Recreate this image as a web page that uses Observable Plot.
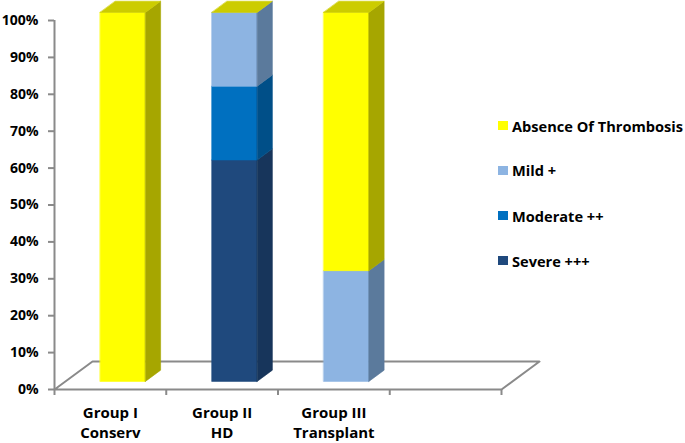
<!DOCTYPE html>
<html><head><meta charset="utf-8">
<script src="https://cdn.jsdelivr.net/npm/d3@7"></script>
<script src="https://cdn.jsdelivr.net/npm/@observablehq/plot@0.6"></script>
<style>
body{margin:0;background:#fff;font-family:"Open Sans",Lato,sans-serif;}
#wrap{position:relative;width:685px;height:443px;overflow:hidden;}
#legend{position:absolute;left:498px;top:0;font-weight:bold;font-size:14.6px;color:#000;}
.item{position:absolute;left:0;white-space:nowrap;display:flex;align-items:center;height:20px;}
.sw{width:10px;height:9px;margin-right:4px;flex:none;}
</style></head><body><div id="wrap"><div id="legend"></div></div>
<script>
// ---- data ----
const groups = ["Group I\nConserv", "Group II\nHD", "Group III\nTransplant"];
const seriesNames = ["Severe +++", "Moderate ++", "Mild +", "Absence Of Thrombosis"]; // stack order, bottom → top
const severe   = [0, 0.6, 0];
const moderate = [0, 0.2, 0];
const mild     = [0, 0.2, 0.3];
const absence  = [1, 0, 0.7];
const yTicks = [0, 0.1, 0.2, 0.3, 0.4, 0.5, 0.6, 0.7, 0.8, 0.9, 1];
const legendOrder = ["Absence Of Thrombosis", "Mild +", "Moderate ++", "Severe +++"];

// ---- styles ----
const frontColor = {"Severe +++": "#1F497D", "Moderate ++": "#0070C0", "Mild +": "#8DB4E2", "Absence Of Thrombosis": "#FFFF00"};
const sideColor  = {"Severe +++": "#17355B", "Moderate ++": "#004F88", "Mild +": "#5B7A9C", "Absence Of Thrombosis": "#A6A600"};
const topColor   = {"Severe +++": "#2A5A95", "Moderate ++": "#1A84CC", "Mild +": "#A9C6EA", "Absence Of Thrombosis": "#CCCC00"};

const W = 685, H = 443, mL = 54, mR = 184, mT = 20, mB = 54;
const nBands = 4;
const ux = (W - mL - mR) / nBands;   // px per x unit
const uy = (H - mT - mB);            // px per y unit
const DX = 38 / ux, DY = 28 / uy;    // full floor depth, in data units
const F1 = 0.29, F2 = 0.69;          // bar front/back depth
const BAR_L = 0.31, BAR_R = 0.715;   // bar position within band
const P = (x, y, f) => ({x: x + f * DX, y: y + f * DY});

const values = [severe, moderate, mild, absence];
const polys = [];
let pid = 0;
function pushPoly(pts, c) { pid++; pts.forEach(p => polys.push({...P(...p), id: pid, c})); }
groups.forEach((g, i) => {
  const x1 = i + BAR_L, x2 = i + BAR_R;
  let y0 = 0;
  values.forEach((vals, s) => {
    const v = vals[i]; if (!(v > 0)) return;
    const y1 = y0 + v, name = seriesNames[s];
    pushPoly([[x1, y0, F1], [x2, y0, F1], [x2, y1, F1], [x1, y1, F1]], frontColor[name]);
    pushPoly([[x2, y0, F1], [x2, y0, F2], [x2, y1, F2], [x2, y1, F1]], sideColor[name]);
    y0 = y1;
  });
  const topName = seriesNames[seriesNames.length - 1];
  pushPoly([[x1, y0, F1], [x2, y0, F1], [x2, y0, F2], [x1, y0, F2]], topColor[topName]);
});
const floor = [P(0, 0, 0), P(nBands, 0, 0), P(nBands, 0, 1), P(0, 0, 1)];

const gray = "#8A8A8A";
const chart = Plot.plot({
  width: W, height: H, marginLeft: mL, marginRight: mR, marginTop: mT, marginBottom: mB,
  x: {domain: [0, nBands]},
  y: {domain: [0, 1]},
  color: {type: "identity"},
  style: {fontFamily: "'Open Sans', Lato, sans-serif", fontSize: "14px", fontWeight: "bold", overflow: "visible", background: "transparent"},
  marks: [
    Plot.line(floor, {x: "x", y: "y", curve: "linear-closed", fill: "white", stroke: gray, strokeWidth: 2}),
    Plot.ruleX([0], {y1: 0, y2: 1, stroke: gray, strokeWidth: 2}),
    Plot.axisY({ticks: yTicks, tickFormat: d3.format(".0%"), tickSize: 6, tickPadding: 10, stroke: gray, strokeWidth: 2, fill: "black", label: null, fontSize: 14}),
    Plot.axisX({ticks: d3.range(nBands + 1), tickFormat: () => "", tickSize: 6, stroke: gray, strokeWidth: 2, label: null}),
    Plot.text(groups, {x: (d, i) => i + 0.5, y: () => 0, dy: 15, lineAnchor: "top", lineHeight: 1.3, fill: "black", fontSize: 15, fontWeight: "bold"}),
    Plot.line(polys, {x: "x", y: "y", z: "id", curve: "linear-closed", fill: "c", stroke: "c", strokeWidth: 0.6})
  ]
});
document.getElementById("wrap").prepend(chart);

const centers = [125.5, 170, 215.5, 260.5];
const legend = document.getElementById("legend");
legendOrder.forEach((name, k) => {
  const d = document.createElement("div");
  d.className = "item";
  d.style.top = (centers[k] - 10) + "px";
  d.innerHTML = `<span class="sw" style="background:${frontColor[name]}"></span><span>${name}</span>`;
  legend.appendChild(d);
});
</script></body></html>
